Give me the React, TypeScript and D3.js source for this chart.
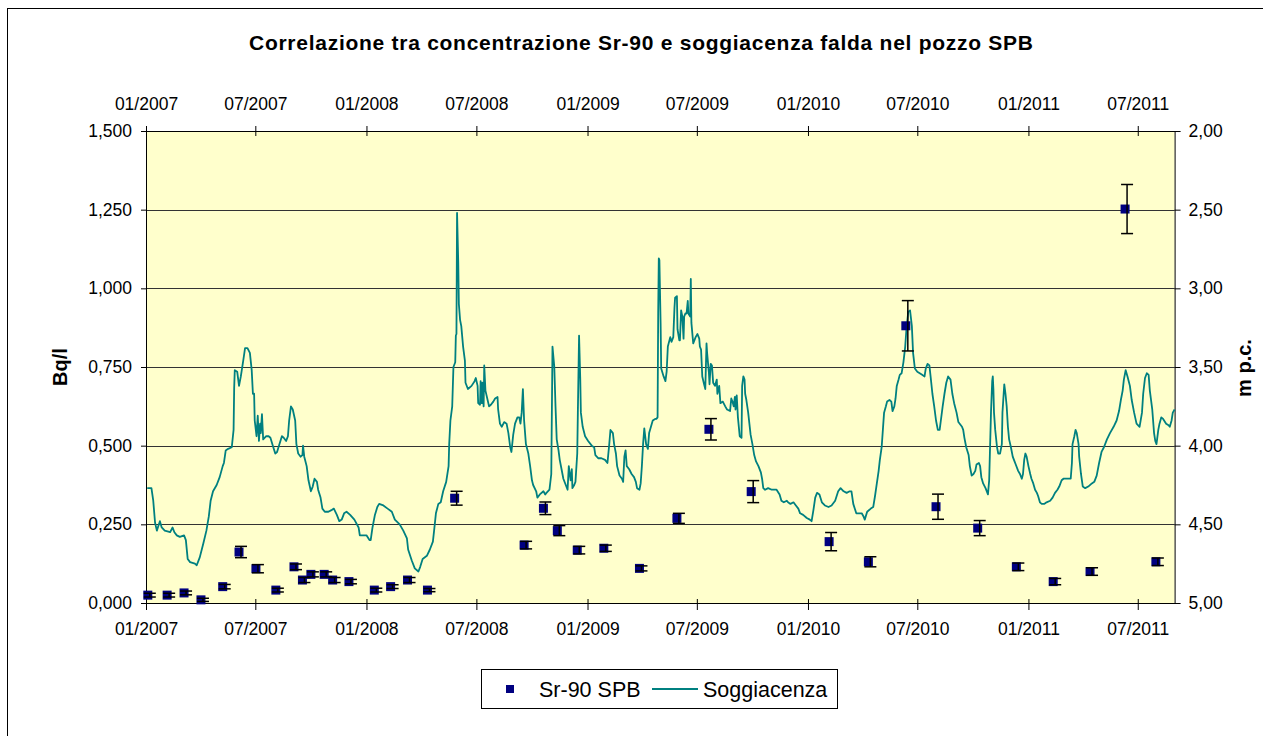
// @ts-nocheck
import React, { useRef, useEffect } from "react";
import * as d3 from "d3";

const width = 1263,
  height = 736;

const titleText = "Correlazione tra concentrazione Sr-90 e soggiacenza falda nel pozzo SPB";
const dateStart = "2007-01-01";
const dateEnd = "2011-08-31";
const leftTicks = [0, 0.25, 0.5, 0.75, 1, 1.25, 1.5];
const rightTicks = [2, 2.5, 3, 3.5, 4, 4.5, 5];

// Sr-90 SPB measurements (Bq/l) with uncertainty
const srDates = [
  "2007-01-04", "2007-02-05", "2007-03-05", "2007-04-02", "2007-05-08", "2007-06-04",
  "2007-07-02", "2007-08-04", "2007-09-03", "2007-09-17", "2007-10-01", "2007-10-23",
  "2007-11-06", "2007-12-03", "2008-01-14", "2008-02-10", "2008-03-09", "2008-04-11",
  "2008-05-26", "2008-09-18", "2008-10-20", "2008-11-12", "2008-12-15", "2009-01-28",
  "2009-03-28", "2009-05-29", "2009-07-21", "2009-09-29", "2010-02-05", "2010-04-11",
  "2010-06-12", "2010-08-01", "2010-10-09", "2010-12-12", "2011-02-11", "2011-04-13",
  "2011-06-10", "2011-07-31",
];
const srValues = [
  0.025, 0.025, 0.032, 0.01, 0.052, 0.162, 0.109, 0.041, 0.115, 0.073, 0.091, 0.091,
  0.073, 0.068, 0.041, 0.052, 0.073, 0.041, 0.333, 0.184, 0.301, 0.23, 0.168, 0.174,
  0.11, 0.269, 0.552, 0.354, 0.195, 0.131, 0.881, 0.306, 0.238, 0.115, 0.068, 0.1,
  1.252, 0.131,
];
const srErrors = [
  0.006, 0.006, 0.006, 0.005, 0.007, 0.018, 0.013, 0.006, 0.009, 0.008, 0.008, 0.008,
  0.008, 0.007, 0.006, 0.006, 0.008, 0.005, 0.022, 0.012, 0.02, 0.016, 0.012, 0.01,
  0.008, 0.016, 0.034, 0.035, 0.029, 0.016, 0.08, 0.04, 0.024, 0.012, 0.01, 0.012,
  0.078, 0.012,
];

// Soggiacenza (m p.c.): [days since 2007-01-01, depth]
const soggiacenza = [
  [2,4.27],[9,4.27],[12,4.35],[15,4.49],[18,4.54],[23,4.48],[26,4.52],[31,4.54],[40,4.55],[44,4.52],[47,4.55],[51,4.57],[56,4.58],[63,4.57],[66,4.6],[69,4.72],[73,4.74],[81,4.75],[84,4.76],[89,4.71],[95,4.62],[100,4.54],[104,4.45],[107,4.35],[111,4.29],[117,4.25],[122,4.2],[127,4.13],[129,4.11],[132,4.03],[136,4.02],[142,4.01],[145,3.9],[146,3.63],[147,3.52],[151,3.53],[154,3.62],[157,3.56],[161,3.46],[164,3.38],[168,3.38],[172,3.41],[175,3.52],[177,3.67],[179,3.67],[180,3.84],[183,3.94],[185,3.81],[187,3.97],[189,3.86],[190,3.92],[192,3.8],[194,3.96],[199,3.94],[203,3.94],[206,3.95],[210,4.0],[214,4.05],[217,4.04],[221,3.99],[225,3.94],[228,3.95],[232,3.97],[235,3.94],[237,3.84],[240,3.75],[243,3.77],[247,3.84],[249,3.99],[252,4.05],[256,4.07],[259,4.06],[260,4.0],[262,4.07],[266,4.13],[269,4.22],[273,4.29],[276,4.26],[279,4.21],[283,4.23],[285,4.28],[289,4.33],[292,4.4],[296,4.42],[302,4.42],[307,4.41],[311,4.4],[316,4.44],[320,4.48],[324,4.47],[328,4.43],[332,4.42],[338,4.44],[345,4.47],[352,4.52],[354,4.57],[360,4.57],[365,4.57],[370,4.6],[372,4.6],[375,4.52],[379,4.44],[383,4.39],[386,4.37],[393,4.38],[400,4.4],[407,4.42],[412,4.47],[420,4.5],[426,4.54],[432,4.59],[434,4.66],[440,4.73],[445,4.78],[451,4.8],[454,4.77],[458,4.72],[465,4.7],[470,4.66],[475,4.61],[477,4.54],[480,4.43],[484,4.37],[488,4.36],[492,4.29],[497,4.23],[501,4.13],[502,3.99],[504,3.84],[507,3.75],[509,3.5],[512,3.47],[513,3.3],[514,3.29],[515,2.52],[517,2.84],[518,3.1],[520,3.2],[522,3.24],[525,3.37],[528,3.46],[529,3.6],[533,3.64],[539,3.62],[544,3.59],[546,3.57],[549,3.62],[550,3.73],[553,3.74],[554,3.59],[556,3.73],[557,3.6],[559,3.75],[560,3.49],[562,3.65],[565,3.7],[568,3.75],[571,3.74],[575,3.72],[578,3.7],[582,3.69],[583,3.77],[586,3.86],[589,3.88],[593,3.85],[597,3.86],[600,3.92],[603,4.01],[605,4.04],[608,3.93],[611,3.86],[615,3.82],[618,3.82],
  [620,3.86],[622,3.79],[624,3.64],[626,3.84],[629,3.99],[633,4.05],[636,4.13],[639,4.22],[641,4.25],[646,4.29],[648,4.33],[652,4.31],[658,4.29],[661,4.31],[663,4.3],[668,4.28],[671,4.18],[673,3.37],[676,3.5],[678,3.75],[680,3.96],[683,4.03],[685,4.09],[688,4.15],[691,4.21],[695,4.25],[698,4.28],[700,4.13],[703,4.22],[705,4.15],[706,4.27],[709,4.25],[711,4.23],[714,4.05],[715,3.79],[717,3.3],[719,3.58],[720,3.79],[723,3.88],[727,3.94],[732,3.97],[738,4.0],[742,4.01],[744,4.06],[749,4.08],[754,4.08],[760,4.09],[764,4.11],[767,3.99],[769,3.9],[773,3.92],[775,3.99],[778,4.05],[780,4.13],[784,4.19],[788,4.21],[790,4.23],[792,4.07],[794,4.03],[796,4.13],[800,4.15],[804,4.18],[808,4.2],[811,4.23],[813,4.27],[817,4.28],[819,4.24],[821,4.13],[823,3.99],[825,3.89],[828,3.99],[831,4.02],[833,3.92],[836,3.88],[839,3.84],[843,3.83],[845,3.83],[847,3.82],[848,3.16],[849,2.81],[850,2.82],[852,3.22],[853,3.51],[857,3.56],[860,3.59],[862,3.53],[864,3.37],[868,3.31],[870,3.34],[873,3.31],[875,3.12],[876,3.06],[879,3.05],[880,3.26],[883,3.33],[884,3.33],[886,3.14],[888,3.18],[890,3.32],[891,3.18],[893,3.16],[895,3.16],[897,3.08],[898,3.16],[901,3.18],[902,2.94],[903,3.22],[906,3.35],[910,3.31],[913,3.29],[916,3.32],[917,3.37],[919,3.39],[921,3.56],[924,3.61],[926,3.64],[928,3.35],[929,3.41],[932,3.54],[933,3.61],[935,3.48],[937,3.49],[939,3.6],[942,3.62],[945,3.58],[946,3.67],[949,3.62],[951,3.73],[955,3.72],[959,3.75],[962,3.77],[967,3.78],[969,3.7],[971,3.72],[973,3.75],[975,3.69],[976,3.77],[978,3.68],[980,3.82],[982,3.9],[983,3.94],[986,3.95],[987,3.62],[989,3.56],[991,3.58],[992,3.67],[994,3.71],[997,3.79],[1001,3.93],[1004,3.99],[1007,4.06],[1010,4.1],[1014,4.13],[1018,4.17],[1020,4.21],[1022,4.27],[1025,4.28],[1030,4.27],[1036,4.28],[1044,4.28],[1049,4.31],[1052,4.35],[1056,4.36],[1061,4.35],[1063,4.36],[1067,4.37],[1072,4.36],[1076,4.38],[1080,4.4],[1083,4.43],[1088,4.44],[1094,4.46],[1099,4.47],[1102,4.48],[1105,4.41],[1108,4.33],[1111,4.3],[1115,4.31],[1119,4.36],[1124,4.38],[1130,4.39],[1135,4.38],[1141,4.35],[1146,4.29],[1150,4.27],[1155,4.29],[1160,4.3],[1165,4.29],[1168,4.29],[1171,4.37],[1176,4.43],[1179,4.43],[1185,4.43],[1188,4.45],[1190,4.47],
  [1194,4.42],[1200,4.4],[1204,4.39],[1207,4.32],[1210,4.24],[1213,4.16],[1215,4.09],[1218,4.01],[1220,3.9],[1222,3.79],[1225,3.75],[1227,3.72],[1231,3.71],[1234,3.72],[1236,3.78],[1239,3.75],[1241,3.7],[1243,3.62],[1246,3.58],[1248,3.55],[1251,3.54],[1254,3.47],[1257,3.37],[1259,3.26],[1262,3.15],[1265,3.14],[1268,3.24],[1270,3.41],[1273,3.51],[1277,3.53],[1281,3.54],[1285,3.55],[1289,3.56],[1291,3.51],[1294,3.48],[1297,3.49],[1299,3.56],[1302,3.67],[1305,3.75],[1308,3.84],[1311,3.9],[1314,3.9],[1316,3.84],[1319,3.75],[1322,3.67],[1325,3.6],[1328,3.56],[1332,3.58],[1335,3.67],[1338,3.73],[1342,3.79],[1345,3.85],[1351,3.88],[1353,3.9],[1355,3.95],[1358,4.01],[1362,4.06],[1364,4.13],[1367,4.19],[1370,4.18],[1373,4.16],[1375,4.12],[1379,4.11],[1381,4.13],[1383,4.2],[1386,4.24],[1390,4.27],[1394,4.31],[1396,4.22],[1399,3.79],[1401,3.59],[1402,3.56],[1403,3.64],[1404,3.79],[1406,3.9],[1409,4.01],[1411,4.05],[1414,4.05],[1417,3.99],[1418,3.79],[1420,3.67],[1421,3.61],[1423,3.67],[1425,3.75],[1427,3.88],[1429,3.96],[1432,4.01],[1435,4.07],[1438,4.1],[1440,4.12],[1444,4.16],[1447,4.18],[1450,4.21],[1452,4.18],[1454,4.09],[1456,4.05],[1458,4.07],[1461,4.13],[1464,4.18],[1466,4.21],[1469,4.24],[1472,4.28],[1475,4.3],[1477,4.32],[1480,4.36],[1483,4.37],[1487,4.37],[1491,4.36],[1497,4.35],[1501,4.33],[1505,4.3],[1509,4.28],[1512,4.26],[1516,4.22],[1519,4.21],[1522,4.21],[1527,4.21],[1531,4.21],[1533,4.11],[1534,3.99],[1537,3.94],[1539,3.9],[1541,3.92],[1544,3.99],[1545,4.07],[1548,4.18],[1551,4.26],[1555,4.27],[1560,4.26],[1566,4.24],[1570,4.23],[1574,4.19],[1578,4.11],[1582,4.04],[1586,4.01],[1591,3.96],[1596,3.92],[1602,3.88],[1607,3.84],[1611,3.78],[1614,3.71],[1617,3.65],[1619,3.58],[1622,3.52],[1625,3.56],[1629,3.62],[1632,3.71],[1636,3.79],[1640,3.86],[1645,3.88],[1649,3.79],[1651,3.67],[1654,3.57],[1657,3.54],[1660,3.55],[1662,3.65],[1666,3.77],[1669,3.92],[1671,3.97],[1673,3.99],[1676,3.9],[1678,3.86],[1681,3.82],[1684,3.83],[1689,3.86],[1693,3.87],[1695,3.88],[1698,3.84],[1700,3.79],[1703,3.77],
];

const App = () => {
  const svgRef = useRef(null);

  useEffect(() => {
    const svg = d3.select(svgRef.current);
    svg.selectAll("*").remove();

    const marginTop = 131,
      marginBottom = 603,
      marginLeft = 146,
      marginRight = 1174.6;
    const font = "'Liberation Sans', Arial, sans-serif";
    const navy = "#000080";
    const teal = "#008080";

    const parse = d3.utcParse("%Y-%m-%d");
    const t0 = parse(dateStart);

    const x = d3.scaleUtc().domain([t0, parse(dateEnd)]).range([marginLeft, marginRight]);
    const yL = d3.scaleLinear().domain([0, 1.5]).range([marginBottom, marginTop]);
    const yR = d3.scaleLinear().domain([2, 5]).range([marginTop, marginBottom]);
    const comma = (f) => (v) => f(v).replace(".", ",");

    // chart frame
    svg.append("rect")
      .attr("x", 7.5).attr("y", 8.5)
      .attr("width", 1300).attr("height", 800)
      .attr("fill", "#fff").attr("stroke", "#000");

    // title
    svg.append("text")
      .attr("x", 641).attr("y", 50)
      .attr("text-anchor", "middle")
      .attr("font-family", font).attr("font-weight", "bold")
      .attr("font-size", 21)
      .attr("textLength", 784).attr("lengthAdjust", "spacing")
      .text(titleText);

    // plot area
    svg.append("rect")
      .attr("x", marginLeft).attr("y", marginTop)
      .attr("width", marginRight - marginLeft).attr("height", marginBottom - marginTop)
      .attr("fill", "#FFFFCC");

    // gridlines
    svg.append("g")
      .selectAll("line")
      .data(leftTicks.slice(1, -1))
      .join("line")
      .attr("x1", marginLeft).attr("x2", marginRight)
      .attr("y1", (d) => Math.round(yL(d)) + 0.5).attr("y2", (d) => Math.round(yL(d)) + 0.5)
      .attr("stroke", "#333").attr("stroke-width", 1);

    const styleAxis = (g, size) => {
      g.attr("font-family", font).attr("font-size", size);
      g.selectAll("text").attr("fill", "#000");
      g.selectAll("line,path").attr("stroke", "#000");
    };

    // left axis
    svg.append("g")
      .attr("transform", `translate(${marginLeft},0)`)
      .call(d3.axisLeft(yL).tickValues(leftTicks).tickSize(5).tickSizeOuter(0).tickPadding(9)
        .tickFormat(comma(d3.format(".3f"))))
      .call((g) => styleAxis(g, 17.5));

    // right axis
    svg.append("g")
      .attr("transform", `translate(${marginRight},0)`)
      .call(d3.axisRight(yR).tickValues(rightTicks).tickSize(6).tickSizeOuter(0).tickPadding(8)
        .tickFormat(comma(d3.format(".2f"))))
      .call((g) => styleAxis(g, 17.5));

    const months = d3.utcMonth.every(6);
    const monthFmt = d3.utcFormat("%m/%Y");

    // bottom axis
    svg.append("g")
      .attr("transform", `translate(0,${marginBottom})`)
      .call(d3.axisBottom(x).ticks(months).tickFormat(monthFmt).tickSize(7).tickSizeOuter(0).tickPadding(13))
      .call((g) => g.selectAll(".tick line").attr("y1", -4))
      .call((g) => styleAxis(g, 17.5));

    // top axis
    svg.append("g")
      .attr("transform", `translate(0,${marginTop})`)
      .call(d3.axisTop(x).ticks(months).tickFormat(monthFmt).tickSize(5).tickSizeOuter(0).tickPadding(16))
      .call((g) => g.selectAll(".tick line").attr("y1", 5))
      .call((g) => styleAxis(g, 17.5));

    // axis titles
    svg.append("text")
      .attr("transform", "translate(67,367) rotate(-90)")
      .attr("text-anchor", "middle")
      .attr("font-family", font).attr("font-weight", "bold").attr("font-size", 20)
      .text("Bq/l");
    svg.append("text")
      .attr("transform", "translate(1251,368) rotate(-90)")
      .attr("text-anchor", "middle")
      .attr("font-family", font).attr("font-weight", "bold").attr("font-size", 20)
      .text("m p.c.");

    // soggiacenza line
    const line = d3.line()
      .x((d) => x(d3.utcDay.offset(t0, d[0])))
      .y((d) => yR(d[1]));
    svg.append("path")
      .datum(soggiacenza)
      .attr("fill", "none")
      .attr("stroke", teal)
      .attr("stroke-width", 1.8)
      .attr("stroke-linejoin", "round")
      .attr("d", line);

    // Sr-90 markers + error bars
    const pts = srDates.map((d, i) => ({ date: parse(d), v: srValues[i], e: srErrors[i] }));
    const ms = 9;
    svg.append("g")
      .selectAll("rect")
      .data(pts)
      .join("rect")
      .attr("x", (d) => x(d.date) - ms / 2)
      .attr("y", (d) => yL(d.v) - ms / 2)
      .attr("width", ms).attr("height", ms)
      .attr("fill", navy);

    const eb = svg.append("g").attr("stroke", "#000").attr("stroke-width", 1.5);
    pts.forEach((d) => {
      const cx = x(d.date) + 2;
      const y1 = yL(d.v - d.e),
        y2 = yL(d.v + d.e);
      eb.append("line").attr("x1", cx).attr("x2", cx).attr("y1", y1).attr("y2", y2);
      eb.append("line").attr("x1", cx - 6).attr("x2", cx + 6).attr("y1", y1).attr("y2", y1);
      eb.append("line").attr("x1", cx - 6).attr("x2", cx + 6).attr("y1", y2).attr("y2", y2);
    });

    // legend
    const lg = svg.append("g");
    lg.append("rect")
      .attr("x", 481.5).attr("y", 669.5)
      .attr("width", 356).attr("height", 39)
      .attr("fill", "#fff").attr("stroke", "#000");
    lg.append("rect")
      .attr("x", 510 - 4).attr("y", 689 - 4)
      .attr("width", 8).attr("height", 8)
      .attr("fill", navy);
    lg.append("text")
      .attr("x", 539).attr("y", 697)
      .attr("font-family", font).attr("font-size", 21.5)
      .text("Sr-90 SPB");
    lg.append("line")
      .attr("x1", 652).attr("x2", 698).attr("y1", 689).attr("y2", 689)
      .attr("stroke", teal).attr("stroke-width", 2);
    lg.append("text")
      .attr("x", 703).attr("y", 697)
      .attr("font-family", font).attr("font-size", 21.5)
      .text("Soggiacenza");
  }, []);

  return (
    <svg
      ref={svgRef}
      width={width}
      height={height}
      style={{ position: "absolute", left: 0, top: 0 }}
    ></svg>
  );
};

export default App;
